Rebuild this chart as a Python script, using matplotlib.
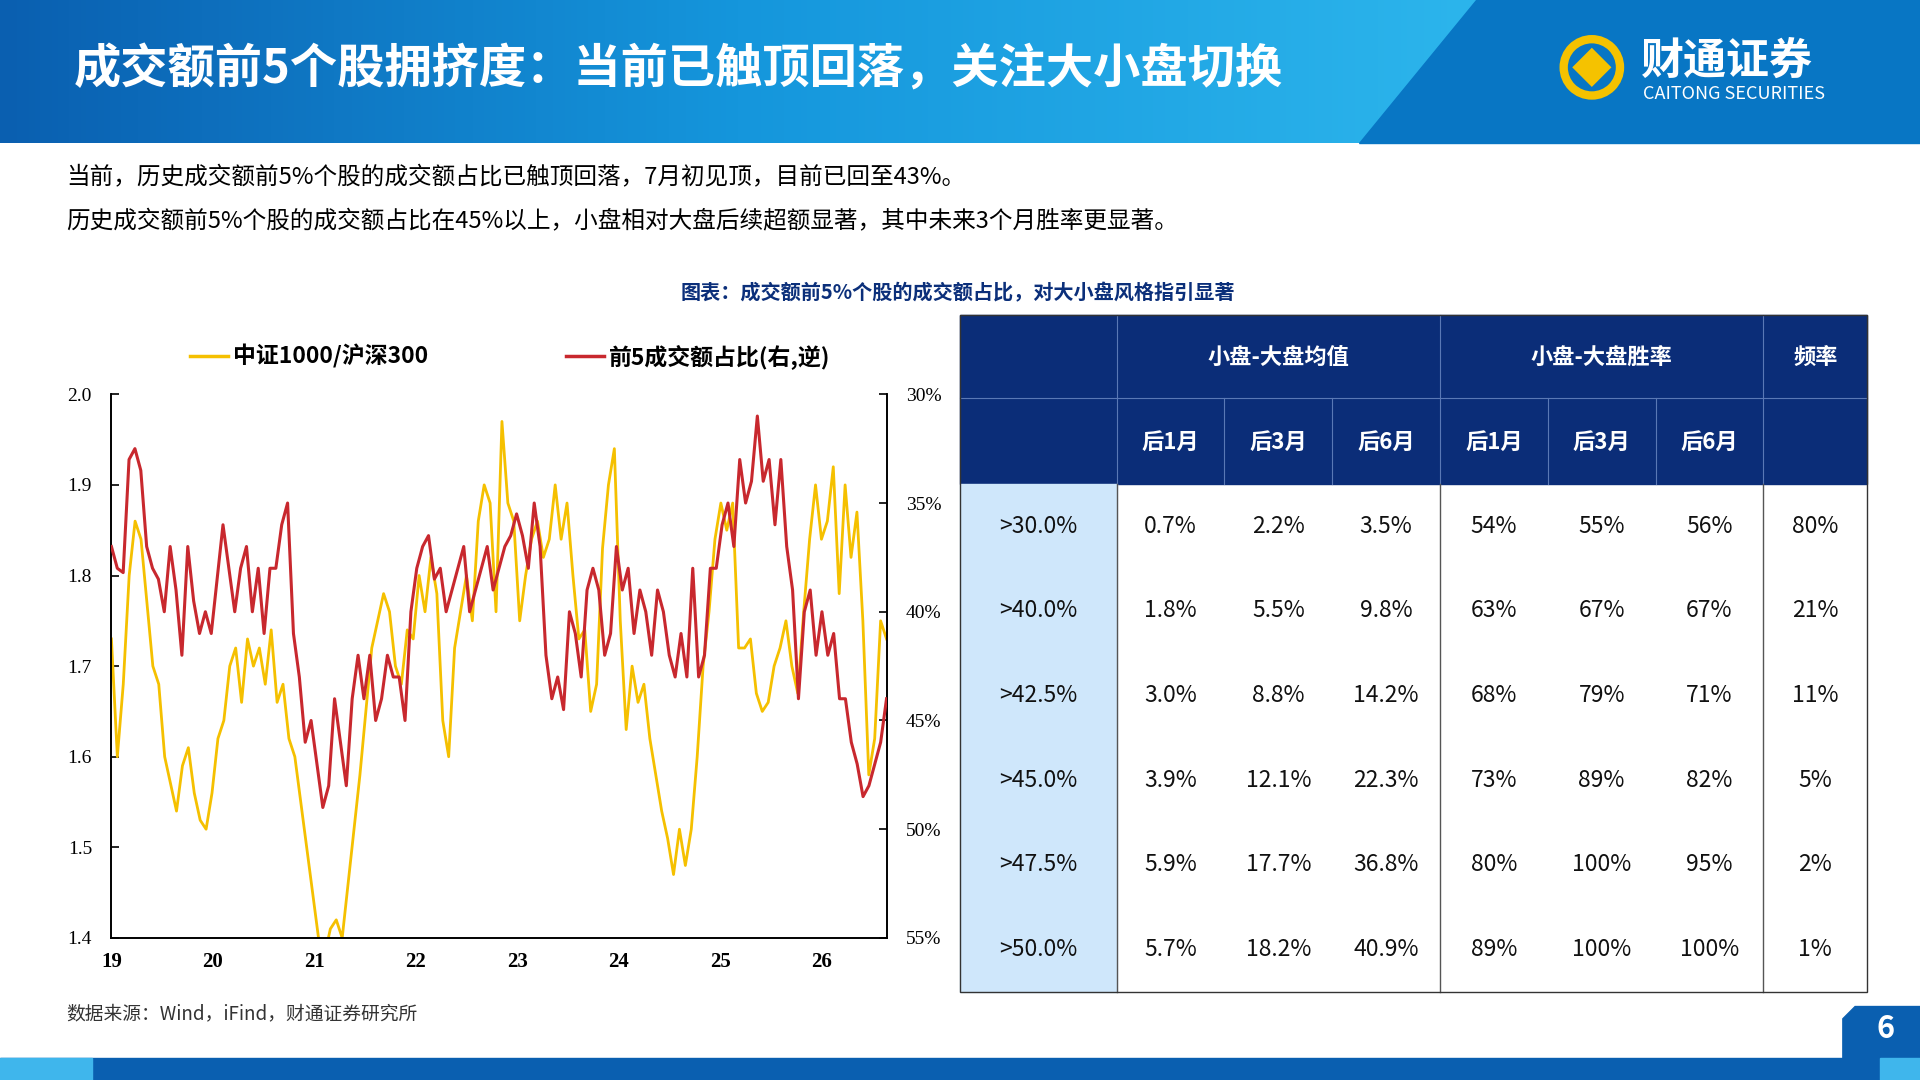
import numpy as np
import matplotlib
matplotlib.use("Agg")
import matplotlib.pyplot as plt
from matplotlib.patches import Rectangle, Polygon, Circle
from matplotlib.colors import LinearSegmentedColormap

plt.rcParams['font.family'] = ['Noto Sans CJK SC', 'DejaVu Sans']

# ---------------- data ----------------
ratio_vals = [1.73,1.60,1.68,1.80,1.86,1.84,1.77,1.70,1.68,1.60,1.57,1.54,1.59,1.61,1.56,1.53,1.52,1.56,1.62,1.64,
              1.70,1.72,1.66,1.73,1.70,1.72,1.68,1.74,1.66,1.68,1.62,1.60,1.55,1.50,1.45,1.40,1.38,1.41,1.42,1.40,
              1.46,1.52,1.58,1.65,1.72,1.75,1.78,1.76,1.70,1.68,1.74,1.73,1.80,1.76,1.82,1.78,1.64,1.60,1.72,1.76,
              1.80,1.75,1.86,1.90,1.88,1.76,1.97,1.88,1.86,1.75,1.80,1.84,1.86,1.82,1.84,1.90,1.84,1.88,1.80,1.73,
              1.74,1.65,1.68,1.83,1.90,1.94,1.75,1.63,1.70,1.66,1.68,1.62,1.58,1.54,1.51,1.47,1.52,1.48,1.52,1.60,
              1.70,1.76,1.84,1.88,1.85,1.88,1.72,1.72,1.73,1.67,1.65,1.66,1.70,1.72,1.75,1.70,1.67,1.76,1.84,1.90,
              1.84,1.86,1.92,1.78,1.90,1.82,1.87,1.75,1.58,1.62,1.75,1.73]
top5_vals = [37.0,38.0,38.2,33.0,32.5,33.5,37.0,38.0,38.5,40.0,37.0,39.0,42.0,37.0,39.5,41.0,40.0,41.0,38.5,36.0,
             38.0,40.0,38.0,37.0,40.0,38.0,41.0,38.0,38.0,36.0,35.0,41.0,43.0,46.0,45.0,47.0,49.0,48.0,44.0,46.0,
             48.0,44.0,42.0,44.0,42.0,45.0,44.0,42.0,43.0,43.0,45.0,40.0,38.0,37.0,36.5,38.5,38.0,40.0,39.0,38.0,
             37.0,40.0,39.0,38.0,37.0,39.0,38.0,37.0,36.5,35.5,36.5,38.0,35.0,37.0,42.0,44.0,43.0,44.5,40.0,41.0,
             43.0,39.0,38.0,39.0,42.0,41.0,37.0,39.0,38.0,41.0,39.0,40.0,42.0,39.0,40.0,42.0,43.0,41.0,43.0,38.0,
             43.0,42.0,38.0,38.0,36.0,35.0,37.0,33.0,35.0,34.0,31.0,34.0,33.0,36.0,33.0,37.0,39.0,44.0,40.0,39.0,
             42.0,40.0,42.0,41.0,44.0,44.0,46.0,47.0,48.5,48.0,47.0,46.0,44.0]
x_start, x_end = 19.0, 26.64
year_ticks = [19, 20, 21, 22, 23, 24, 25, 26]
left_ticks = [1.4, 1.5, 1.6, 1.7, 1.8, 1.9, 2.0]
right_ticks = [30, 35, 40, 45, 50, 55]

col_groups = ["小盘-大盘均值", "小盘-大盘胜率", "频率"]
sub_cols = ["后1月", "后3月", "后6月", "后1月", "后3月", "后6月"]
row_labels = [">30.0%", ">40.0%", ">42.5%", ">45.0%", ">47.5%", ">50.0%"]
mean_vals = [["0.7%","2.2%","3.5%"],["1.8%","5.5%","9.8%"],["3.0%","8.8%","14.2%"],
             ["3.9%","12.1%","22.3%"],["5.9%","17.7%","36.8%"],["5.7%","18.2%","40.9%"]]
win_vals = [["54%","55%","56%"],["63%","67%","67%"],["68%","79%","71%"],
            ["73%","89%","82%"],["80%","100%","95%"],["89%","100%","100%"]]
freq_vals = ["80%","21%","11%","5%","2%","1%"]

# ---------------- figure ----------------
W, H = 1568, 882
fig = plt.figure(figsize=(19.2, 10.8), dpi=100)
bg = fig.add_axes([0, 0, 1, 1])

grad = np.linspace(0, 1, 256)[None, :]
cm = LinearSegmentedColormap.from_list('h', ['#0a5fb0', '#1596dc', '#2cb5ec'])
bg.imshow(grad, cmap=cm, extent=[0, 1205, 117, 0], aspect='auto', zorder=0)
bg.add_patch(Polygon([[1205, 0], [W, 0], [W, 117], [1110, 117]], closed=True, color='#0876c4', zorder=1))
bg.set_xlim(0, W); bg.set_ylim(H, 0); bg.axis('off')
bg.text(60, 57, "成交额前5个股拥挤度：当前已触顶回落，关注大小盘切换", color='white', fontsize=34,
        fontweight='bold', va='center', ha='left')
# logo
bg.add_patch(Circle((1300, 55), 23, fill=False, ec='#f5c200', lw=6, zorder=3))
bg.add_patch(Polygon([[1300, 39], [1316, 55], [1300, 71], [1284, 55]], closed=True, fc='#f5c200', zorder=3))
bg.text(1340, 50, "财通证券", color='white', fontsize=31, fontweight='bold', va='center', ha='left')
bg.text(1342, 77, "CAITONG SECURITIES", color='white', fontsize=13, va='center', ha='left')

# intro text
bg.text(54, 145, "当前，历史成交额前5%个股的成交额占比已触顶回落，7月初见顶，目前已回至43%。", fontsize=17, va='center')
bg.text(54, 181, "历史成交额前5%个股的成交额占比在45%以上，小盘相对大盘后续超额显著，其中未来3个月胜率更显著。", fontsize=17, va='center')
bg.text(782, 239, "图表：成交额前5%个股的成交额占比，对大小盘风格指引显著", fontsize=14.5, fontweight='bold',
        color='#0b2f7a', va='center', ha='center')

# legend
bg.plot([155, 186], [291, 291], color='#f5c000', lw=2.5)
bg.text(190, 291, "中证1000/沪深300", fontsize=16.5, fontweight='bold', va='center')
bg.plot([462, 493], [291, 291], color='#c8282e', lw=2.5)
bg.text(497, 291, "前5成交额占比(右,逆)", fontsize=16.5, fontweight='bold', va='center')

bg.text(54, 828, "数据来源：Wind，iFind，财通证券研究所", fontsize=13.5, va='center', color='#333333')

# footer
bg.add_patch(Rectangle((0, 864), W, 18, color='#0a5fb0', zorder=2))
bg.add_patch(Rectangle((0, 864), 75, 18, color='#3fb6ec', zorder=3))
bg.add_patch(Polygon([[1505, 882], [1505, 832], [1515, 822], [W, 822], [W, 882]], closed=True, color='#0a5fb0', zorder=3))
bg.add_patch(Rectangle((1535, 864), 33, 18, color='#3fb6ec', zorder=4))
bg.text(1540, 840, "6", color='white', fontsize=22, fontweight='bold', ha='center', va='center', zorder=5)

# ---------------- chart ----------------
def rect(x0, y0, x1, y1):
    return [x0 / W, 1 - y1 / H, (x1 - x0) / W, (y1 - y0) / H]

ax = fig.add_axes(rect(91, 322, 724, 766))
xs1 = np.linspace(x_start, x_end, len(ratio_vals))
xs2 = np.linspace(x_start, x_end, len(top5_vals))
ax.plot(xs1, ratio_vals, color='#f5c000', lw=2.0, zorder=2)
ax.set_ylim(1.4, 2.0)
ax.set_xlim(19, x_end)
ax2 = ax.twinx()
ax2.plot(xs2, top5_vals, color='#c8282e', lw=2.2, zorder=3)
ax2.set_ylim(55, 30)
serif = ['Liberation Serif', 'DejaVu Serif']
for a in (ax, ax2):
    a.spines['top'].set_visible(False)
    a.tick_params(direction='in', length=6, width=1.2)
    for s in a.spines.values():
        s.set_linewidth(1.2)
ax.set_yticks(left_ticks)
ax.set_yticklabels([f"{v:.1f}" for v in left_ticks], family=serif, fontsize=14)
ax.set_xticks(year_ticks)
ax.set_xticklabels([str(v) for v in year_ticks], family=serif, fontsize=15, fontweight='bold')
ax.tick_params(axis='x', length=0, pad=10)
ax.tick_params(axis='y', pad=14)
ax2.set_yticks(right_ticks)
ax2.set_yticklabels([f"{v}%" for v in right_ticks], family=serif, fontsize=14)
ax2.tick_params(axis='y', pad=14)
ax2.set_xlim(19, x_end)

# ---------------- table ----------------
navy = '#0b2d78'
xs = [784, 912, 1000, 1088, 1176, 1264, 1352, 1440, 1525]
y0, y1, y2 = 257, 325, 395
row_h = (810 - 395) / 6
bg.add_patch(Rectangle((784, y0), 1525 - 784, y2 - y0, color=navy, zorder=2))
bg.add_patch(Rectangle((784, y2), 912 - 784, 810 - y2, color='#cfe7fb', zorder=2))
for xv in [912, 1176, 1440]:
    bg.plot([xv, xv], [y0, y2], color='#5a78b5', lw=0.8, zorder=3)
for xv in [1000, 1088, 1264, 1352]:
    bg.plot([xv, xv], [y1, y2], color='#5a78b5', lw=0.8, zorder=3)
bg.plot([784, 1525], [y1, y1], color='#5a78b5', lw=0.8, zorder=3)
for xv in [912, 1176, 1440]:
    bg.plot([xv, xv], [y2, 810], color='#555555', lw=1.0, zorder=3)
bg.add_patch(Rectangle((784, y0), 1525 - 784, 810 - y0, fill=False, ec='#333333', lw=1.0, zorder=4))
centers = [(xs[i] + xs[i + 1]) / 2 for i in range(len(xs) - 1)]
bg.text((912 + 1176) / 2, 292, col_groups[0], color='white', fontsize=16, fontweight='bold', ha='center', va='center', zorder=5)
bg.text((1176 + 1440) / 2, 292, col_groups[1], color='white', fontsize=16, fontweight='bold', ha='center', va='center', zorder=5)
bg.text(centers[7], 292, col_groups[2], color='white', fontsize=16, fontweight='bold', ha='center', va='center', zorder=5)
for i, s in enumerate(sub_cols):
    bg.text(centers[i + 1], 361, s, color='white', fontsize=16, fontweight='bold', ha='center', va='center', zorder=5)
for r in range(6):
    yc = y2 + row_h * (r + 0.5)
    cells = [row_labels[r]] + mean_vals[r] + win_vals[r] + [freq_vals[r]]
    for c, t in enumerate(cells):
        bg.text(centers[c], yc, t, fontsize=16.5, ha='center', va='center', zorder=5, color='#111111')

fig.savefig("out.png", dpi=100)
